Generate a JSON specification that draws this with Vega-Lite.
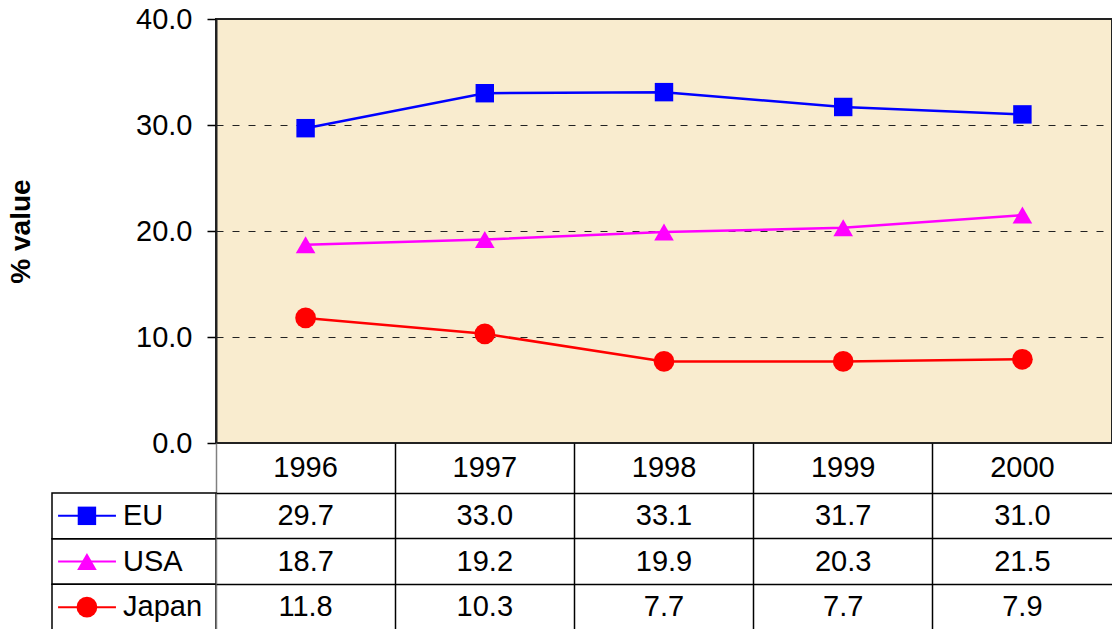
{
  "$schema": "https://vega.github.io/schema/vega-lite/v6.json",
  "background": "white",
  "padding": {"left": 6, "top": 4, "right": 0, "bottom": 0},
  "autosize": {"type": "pad"},
  "columns": 2,
  "spacing": 0,
  "bounds": "flush",
  "config": {"font": "Liberation Sans", "view": {"stroke": null}},
  "datasets": {
    "d": [
      {"series": "EU", "year": 1996, "value": 29.7},
      {"series": "EU", "year": 1997, "value": 33.0},
      {"series": "EU", "year": 1998, "value": 33.1},
      {"series": "EU", "year": 1999, "value": 31.7},
      {"series": "EU", "year": 2000, "value": 31.0},
      {"series": "USA", "year": 1996, "value": 18.7},
      {"series": "USA", "year": 1997, "value": 19.2},
      {"series": "USA", "year": 1998, "value": 19.9},
      {"series": "USA", "year": 1999, "value": 20.3},
      {"series": "USA", "year": 2000, "value": 21.5},
      {"series": "Japan", "year": 1996, "value": 11.8},
      {"series": "Japan", "year": 1997, "value": 10.3},
      {"series": "Japan", "year": 1998, "value": 7.7},
      {"series": "Japan", "year": 1999, "value": 7.7},
      {"series": "Japan", "year": 2000, "value": 7.9}
    ]
  },
  "concat": [
    {"width": 164, "height": 424, "data": {"values": [{}]}, "mark": "text", "encoding": {}},
    {
      "width": 896, "height": 424,
      "data": {"name": "d"},
      "view": {"fill": "#F9ECCF", "stroke": "#222222", "strokeWidth": 2},
      "encoding": {
        "x": {"field": "year", "type": "ordinal", "scale": {"type": "point", "padding": 0.5}, "axis": null},
        "y": {"field": "value", "type": "quantitative", "scale": {"domain": [0, 40], "nice": false},
          "axis": {"values": [0, 10, 20, 30, 40], "format": ".1f", "title": "% value", "titleFontSize": 28, "titleFontWeight": "bold", "titleColor": "black", "titlePadding": 100,
            "labelFontSize": 29, "labelColor": "black", "labelPadding": 15, "tickSize": 9, "tickColor": "black", "tickWidth": 1.5,
            "domainColor": "#222222", "domainWidth": 2, "grid": true, "gridColor": "#222222", "gridDash": [7, 9], "gridWidth": 1,
            "gridOpacity": {"condition": {"test": "datum.value == 0 || datum.value == 40", "value": 0}, "value": 1}}},
        "color": {"field": "series", "type": "nominal", "scale": {"domain": ["EU", "USA", "Japan"], "range": ["#0000FF", "#FF00FF", "#FF0000"]}, "legend": null}
      },
      "layer": [
        {"mark": {"type": "line", "strokeWidth": 2.5}},
        {"mark": {"type": "point", "filled": true, "opacity": 1},
          "encoding": {
            "shape": {"field": "series", "type": "nominal", "scale": {"domain": ["EU", "USA", "Japan"], "range": ["square", "triangle-up", "circle"]}, "legend": null},
            "size": {"field": "series", "type": "ordinal", "scale": {"domain": ["EU", "USA", "Japan"], "range": [340, 430, 300]}, "legend": null}}}
      ]
    },
    {"width": 164, "height": 50, "data": {"values": [{}]}, "mark": "text", "encoding": {}},
    {
      "width": 896, "height": 50,
      "data": {"name": "d"},
      "transform": [{"filter": "datum.series === 'EU'"}],
      "mark": {"type": "text", "fontSize": 29, "color": "black"},
      "encoding": {
        "x": {"field": "year", "type": "ordinal", "scale": {"type": "band", "paddingInner": 0, "paddingOuter": 0},
          "axis": {"title": null, "labels": false, "ticks": false, "domain": false, "grid": true, "bandPosition": 0, "gridWidth": 1.5,
            "gridColor": {"condition": {"test": "datum.value == 1996", "value": "#808080"}, "value": "black"}}},
        "text": {"field": "year", "type": "ordinal"}
      }
    },
    {
      "width": 164, "height": 137,
      "data": {"name": "d"},
      "transform": [{"filter": "datum.year === 1996"}],
      "encoding": {
        "y": {"field": "series", "type": "nominal", "scale": {"type": "band", "domain": ["EU", "USA", "Japan"], "paddingInner": 0, "paddingOuter": 0}, "axis": null}
      },
      "layer": [
        {"mark": {"type": "rect", "fill": "transparent", "stroke": "black", "strokeWidth": 1.5}},
        {"mark": {"type": "rule", "strokeWidth": 2},
          "encoding": {"x": {"datum": 0.037, "type": "quantitative", "scale": {"domain": [0, 1]}, "axis": null}, "x2": {"datum": 0.39},
            "color": {"field": "series", "type": "nominal", "legend": null}}},
        {"mark": {"type": "point", "filled": true, "opacity": 1},
          "encoding": {"x": {"datum": 0.213, "type": "quantitative"},
            "color": {"field": "series", "type": "nominal", "legend": null},
            "shape": {"field": "series", "type": "nominal", "legend": null},
            "size": {"field": "series", "type": "ordinal", "legend": null}}},
        {"mark": {"type": "text", "align": "left", "fontSize": 29, "color": "black"},
          "encoding": {"x": {"datum": 0.433, "type": "quantitative"}, "text": {"field": "series"}}}
      ]
    },
    {
      "width": 896, "height": 137,
      "data": {"name": "d"},
      "mark": {"type": "text", "fontSize": 29, "color": "black"},
      "encoding": {
        "x": {"field": "year", "type": "ordinal", "scale": {"type": "band", "paddingInner": 0, "paddingOuter": 0},
          "axis": {"title": null, "labels": false, "ticks": false, "domain": false, "grid": true, "bandPosition": 0, "gridWidth": 1.5,
            "gridColor": {"condition": {"test": "datum.value == 1996", "value": "#808080"}, "value": "black"}}},
        "y": {"field": "series", "type": "nominal", "scale": {"type": "band", "domain": ["EU", "USA", "Japan"], "paddingInner": 0, "paddingOuter": 0},
          "axis": {"title": null, "labels": false, "ticks": false, "domain": false, "grid": true, "bandPosition": 0, "gridWidth": 1.5, "gridColor": "black"}},
        "text": {"field": "value", "type": "quantitative", "format": ".1f"}
      }
    }
  ]
}
